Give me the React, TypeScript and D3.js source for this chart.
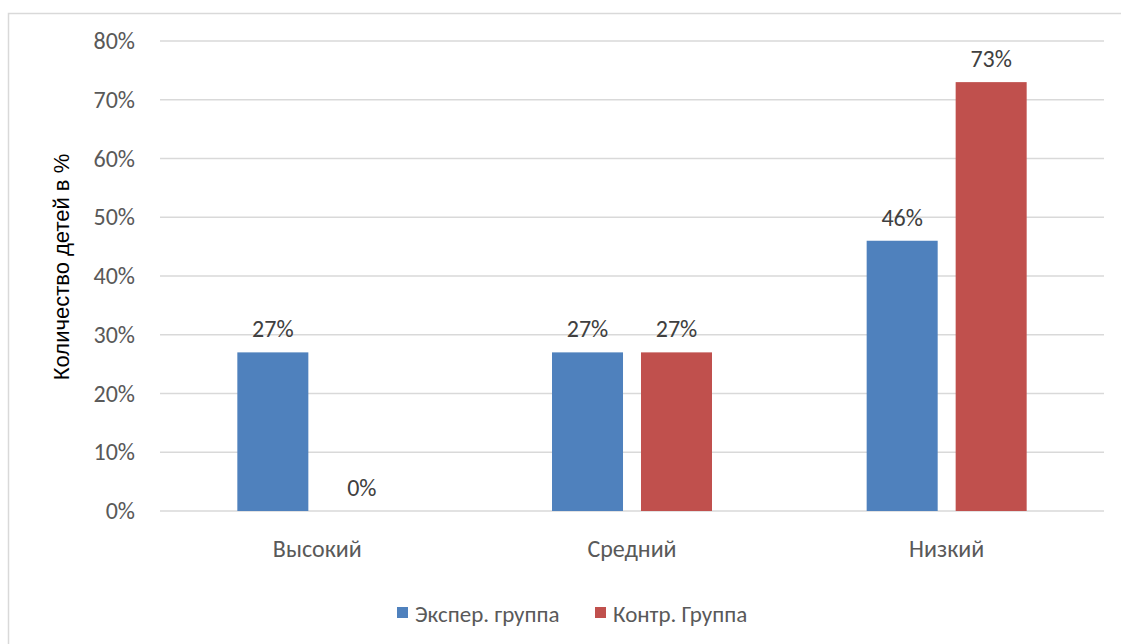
import * as d3 from 'd3';

const categories = ['Высокий', 'Средний', 'Низкий'];
const seriesNames = ['Экспер. группа', 'Контр. Группа'];
const experValues = [27, 27, 46];
const controlValues = [0, 27, 73];
const yTicks = [0, 10, 20, 30, 40, 50, 60, 70, 80];
const colors = ['#4f81bd', '#c0504d'];

export default function App() {
  const width = 1121;
  const height = 644;
  const plot = { left: 160, right: 1104, top: 41, bottom: 511 };
  const font = 'Carlito, Calibri, "Open Sans", "Noto Sans", sans-serif';
  const textColor = '#595959';

  const x0 = d3.scaleBand<string>()
    .domain(categories)
    .range([plot.left, plot.right])
    .paddingInner(0)
    .paddingOuter(0);

  const x1 = d3.scaleBand<string>()
    .domain(seriesNames)
    .range([0, x0.bandwidth()])
    .paddingInner(0.202)
    .paddingOuter(0.869);

  const y = d3.scaleLinear()
    .domain([0, 80])
    .range([plot.bottom, plot.top]);

  const series = [experValues, controlValues];

  return (
    <svg
      width={width}
      height={height}
      style={{ position: 'absolute', left: 0, top: 0, display: 'block', background: '#fff' }}
    >
      {/* Frame */}
      <rect x={8.5} y={13.5} width={1200} height={700} fill="#fff" stroke="#d9d9d9" strokeWidth={1.5} />

      {/* Gridlines + y ticks */}
      {yTicks.map(t => (
        <g key={t}>
          <line
            x1={plot.left}
            x2={plot.right}
            y1={y(t)}
            y2={y(t)}
            stroke="#d9d9d9"
            strokeWidth={1.3}
          />
          <text
            x={135}
            y={y(t) + 8}
            textAnchor="end"
            fontFamily={font}
            fontSize={24}
            fill={textColor}
          >
            {t}%
          </text>
        </g>
      ))}

      {/* Bars */}
      {categories.map((c, ci) => (
        <g key={c} transform={`translate(${x0(c)},0)`}>
          {seriesNames.map((s, si) => {
            const v = series[si][ci];
            const bx = x1(s)!;
            return (
              <g key={s}>
                <rect
                  x={bx}
                  y={y(v)}
                  width={x1.bandwidth()}
                  height={plot.bottom - y(v)}
                  fill={colors[si]}
                />
                <text
                  x={bx + x1.bandwidth() / 2}
                  y={y(v) - 15}
                  textAnchor="middle"
                  fontFamily={font}
                  fontSize={24}
                  fill="#404040"
                >
                  {v}%
                </text>
              </g>
            );
          })}
          <text
            x={x0.bandwidth() / 2}
            y={557}
            textAnchor="middle"
            fontFamily={font}
            fontSize={24}
            fill={textColor}
          >
            {c}
          </text>
        </g>
      ))}

      {/* Y axis title */}
      <text
        transform={`translate(69, 267) rotate(-90)`}
        textAnchor="middle"
        fontFamily='"Liberation Sans", Arial, sans-serif'
        fontSize={22}
        fill="#000"
      >
        Количество детей в %
      </text>

      {/* Legend */}
      {seriesNames.map((s, i) => {
        const lx = [397, 595][i];
        return (
          <g key={s}>
            <rect x={lx} y={607} width={11} height={11} fill={colors[i]} />
            <text
              x={lx + 18}
              y={622}
              fontFamily={font}
              fontSize={23}
              fill={textColor}
            >
              {s}
            </text>
          </g>
        );
      })}
    </svg>
  );
}
